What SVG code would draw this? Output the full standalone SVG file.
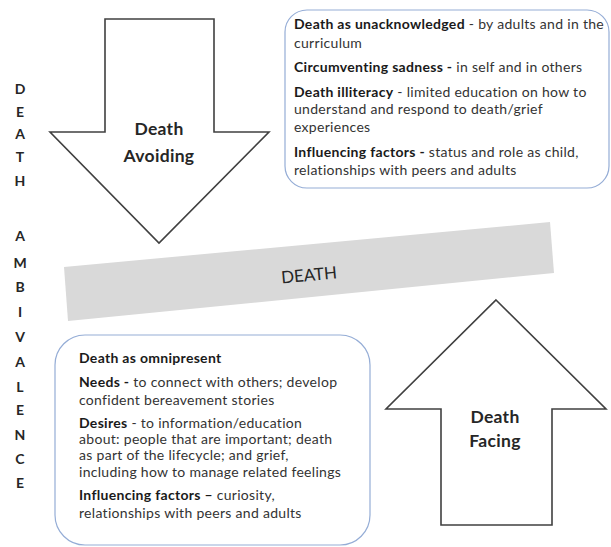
<svg xmlns="http://www.w3.org/2000/svg" width="611" height="547" viewBox="0 0 611 547">
<style>
.arrow{fill:#ffffff;stroke:#404040;stroke-width:1.6;stroke-linejoin:miter}
.box{fill:#ffffff;stroke:#95add6;stroke-width:1.2}
.t{font-family:Lato,"Open Sans",sans-serif;font-size:14px;letter-spacing:0.3px;fill:#333333}
.b{font-weight:bold;fill:#1a1a1a}
.lbl{font-family:Lato,"Open Sans",sans-serif;font-size:17.5px;letter-spacing:0.3px;font-weight:bold;fill:#262626;text-anchor:middle}
.side{font-family:Lato,"Open Sans",sans-serif;font-size:14px;font-weight:bold;fill:#262626;text-anchor:middle}
</style>
<rect width="611" height="547" fill="#ffffff"/>
<g id="side-label">
<text class="side" x="20" y="94">D</text>
<text class="side" x="20" y="117">E</text>
<text class="side" x="20" y="139">A</text>
<text class="side" x="20" y="162">T</text>
<text class="side" x="20" y="186">H</text>
<text class="side" x="20" y="241">A</text>
<text class="side" x="20" y="268">M</text>
<text class="side" x="20" y="292">B</text>
<text class="side" x="20" y="317">I</text>
<text class="side" x="20" y="342">V</text>
<text class="side" x="20" y="367">A</text>
<text class="side" x="20" y="392">L</text>
<text class="side" x="20" y="415">E</text>
<text class="side" x="20" y="440">N</text>
<text class="side" x="20" y="464">C</text>
<text class="side" x="20" y="488">E</text>
</g>
<g id="death-avoiding">
<polygon class="arrow" points="105,19 214,19 214,132 269,132 159,243 50,132 105,132"/>
<text class="lbl" x="159" y="135">Death</text>
<text class="lbl" x="159" y="162">Avoiding</text>
</g>
<g id="avoiding-box">
<rect class="box" x="285" y="10" width="324" height="178" rx="22" ry="22"/>
<text class="t" x="294" y="29"><tspan class="b">Death as unacknowledged</tspan> - by adults and in the</text>
<text class="t" x="294" y="48">curriculum</text>
<text class="t" x="294" y="72"><tspan class="b">Circumventing sadness -</tspan> in self and in others</text>
<text class="t" x="294" y="97"><tspan class="b">Death illiteracy</tspan> - limited education on how to</text>
<text class="t" x="294" y="114">understand and respond to death/grief</text>
<text class="t" x="294" y="132">experiences</text>
<text class="t" x="294" y="157"><tspan class="b">Influencing factors -</tspan> status and role as child,</text>
<text class="t" x="294" y="175">relationships with peers and adults</text>
</g>
<g id="death-band">
<polygon points="64,267 550,222 554,273 68,321" fill="#d9d9d9"/>
<text x="309" y="281" transform="rotate(-5.3 309 275)" font-family="Lato,'Open Sans',sans-serif" font-size="17" fill="#262626" text-anchor="middle">DEATH</text>
</g>
<g id="facing-box">
<rect class="box" x="55" y="335" width="315" height="210" rx="30" ry="30"/>
<text class="t b" x="79" y="363">Death as omnipresent</text>
<text class="t" x="79" y="387"><tspan class="b">Needs -</tspan> to connect with others; develop</text>
<text class="t" x="79" y="405">confident bereavement stories</text>
<text class="t" x="79" y="428"><tspan class="b">Desires</tspan> - to information/education</text>
<text class="t" x="79" y="444">about: people that are important; death</text>
<text class="t" x="79" y="460">as part of the lifecycle; and grief,</text>
<text class="t" x="79" y="477">including how to manage related feelings</text>
<text class="t" x="79" y="500"><tspan class="b">Influencing factors –</tspan> curiosity,</text>
<text class="t" x="79" y="518">relationships with peers and adults</text>
</g>
<g id="death-facing">
<polygon class="arrow" points="496,300 606,409 552,409 552,525 441,525 441,409 386,409"/>
<text class="lbl" x="495" y="423">Death</text>
<text class="lbl" x="495" y="447">Facing</text>
</g>
<g id="connectors"></g>
</svg>
